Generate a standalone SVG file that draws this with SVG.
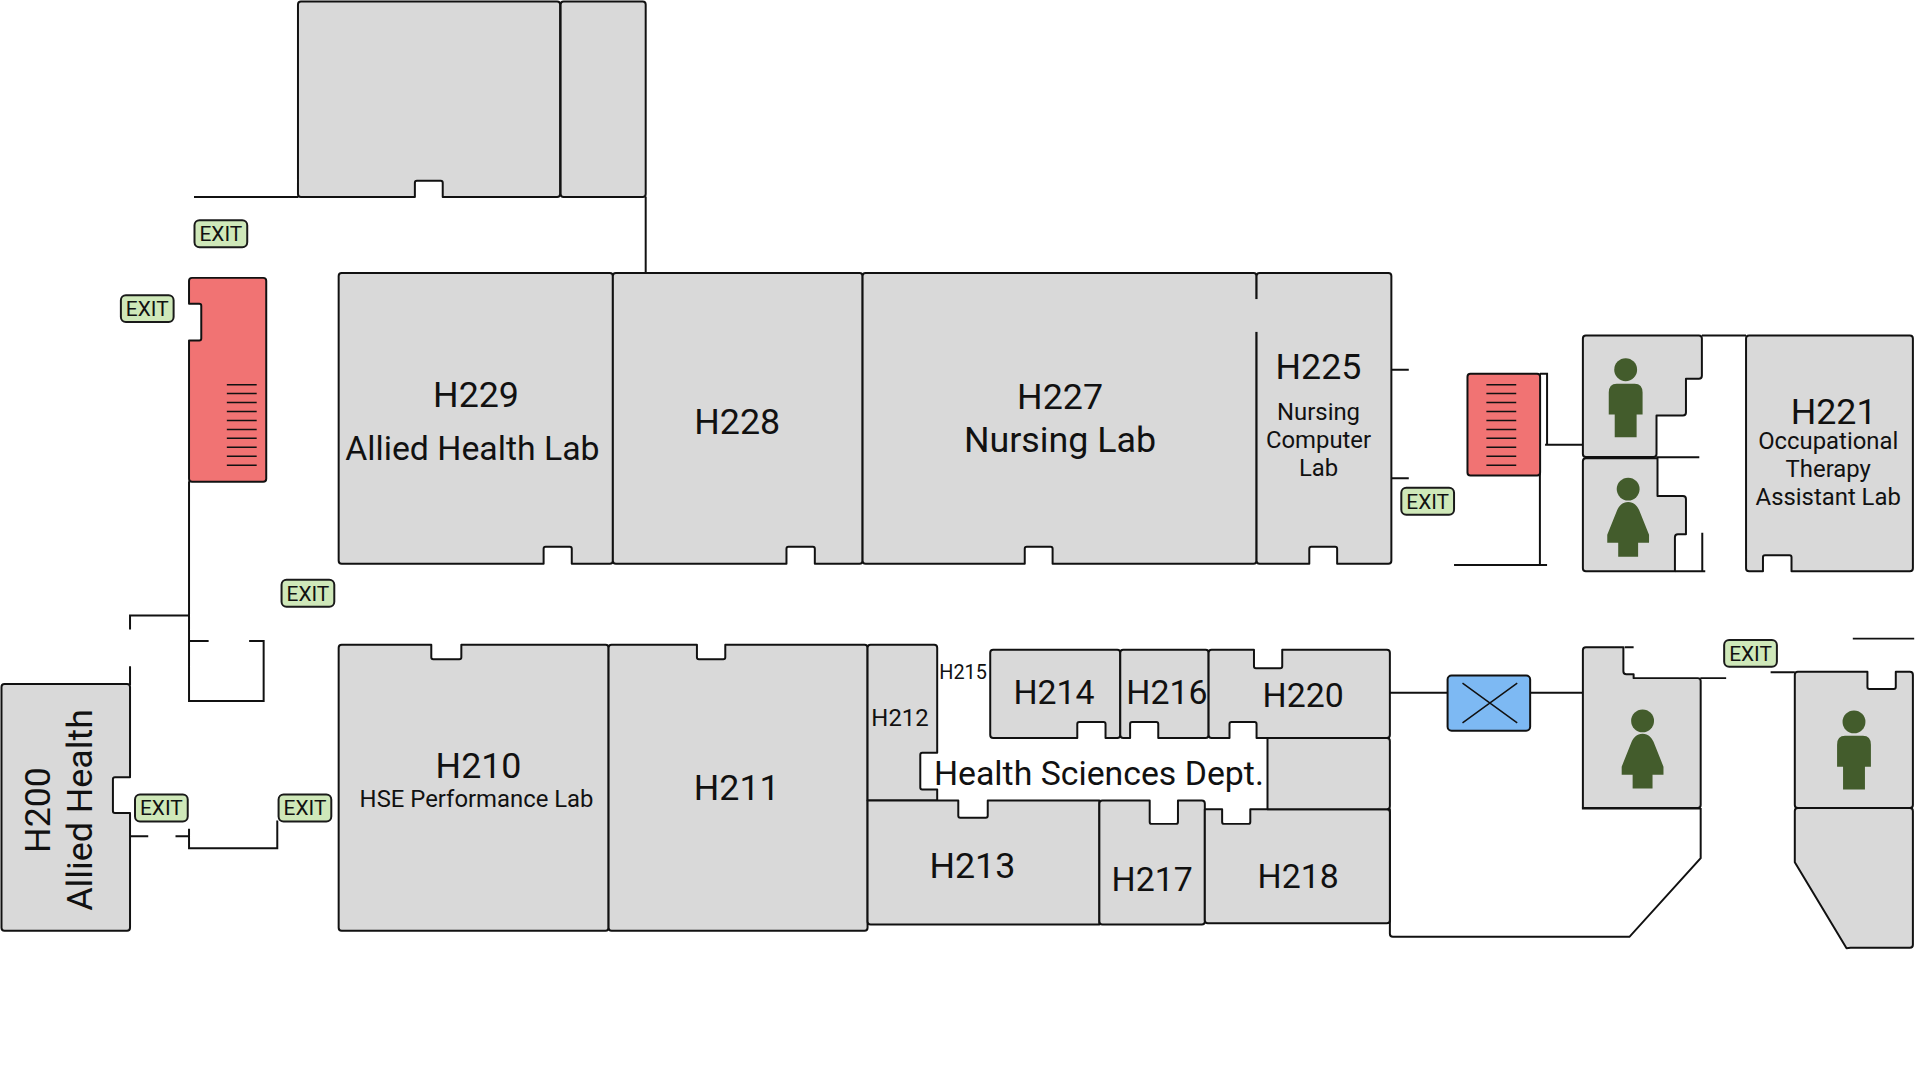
<svg xmlns="http://www.w3.org/2000/svg" width="1924" height="1080" viewBox="0 0 1924 1080">
<style>
text{font-family:Roboto,"Liberation Sans",sans-serif;fill:#111;text-anchor:middle}
.r{fill:#d9d9d9;stroke:#111;stroke-width:2;stroke-linejoin:round}
.s{fill:#f17373;stroke:#111;stroke-width:2;stroke-linejoin:round}
.w{fill:none;stroke:#111;stroke-width:2}
.xr{fill:#cfe8b9;stroke:#1a1a1a;stroke-width:2}
.xt{font-size:21px}
.t{stroke:#111;stroke-width:1.500}
.p{fill:#435c2c}
.l{font-size:36px}
.a{font-size:34px}
.m{font-size:24px}
</style>
<defs>
<g id="man"><circle r="11.5"/><path d="M-9 14H9Q17 14 17 23V45H11V68H-11V45H-17V23Q-17 14-9 14Z"/></g>
<g id="woman"><circle r="11.5"/><path d="M0 13C6 13 9 17 11 21L21 46V54H10V68H-10V54H-21V46L-11 21C-9 17-6 13 0 13Z"/></g>
<g id="treads"><path class="t" d="M0 0h30M0 9h30M0 18h30M0 27h30M0 36h30M0 45h30M0 54h30M0 63h30M0 72h30M0 81h30"/></g>
<g id="exit"><rect class="xr" x="-26.500" y="-13.500" width="53" height="27" rx="5"/><text class="xt" y="7.500">EXIT</text></g>
</defs>
<g id="plan" transform="translate(0 .6) scale(.9949)">
<g id="connectors">
<path class="w" d="M195 197.300H300M649 197V274"/>
<path class="w" d="M190 483V704H265V643.800H250.400M190 643.800H209.700M190 618H130.700V632M130.700 669V688"/>
<path class="w" d="M130.700 840H149M176.400 840H190M190 832.500V852H278.700V824"/>
<path class="w" d="M1398.500 371H1416M1398.500 480H1416"/>
<path class="w" d="M1461.500 567.300H1555M1547.800 375V567.300M1547.800 375H1555V446.500M1553 446.500H1591"/>
<path class="w" d="M1710.600 336.700H1755M1665 459H1708M1683.500 573.500H1714M1711 535V573.500"/>
<path class="w" d="M1397 695.600H1455M1538 695.600H1591"/>
<path class="w" d="M1397 812V938q0 3 3 3H1637.800L1709.400 862V811.500"/>
<path class="w" d="M1709 681H1735M1779.700 675H1804M1862.300 641.300H1924M1633 650H1642M1590 812H1709" />
</g>

<g id="room-a"><path class="r" d="M302.500 1H560q3 0 3 3V194.300q0 3-3 3H445V183q0-2-2-2H419q-2 0-2 2V197.300H302.500q-3 0-3-3V4q0-3 3-3Z"/></g>
<g id="room-b"><path class="r" d="M566.500 1H646q3 0 3 3V194.300q0 3-3 3H566.500q-3 0-3-3V4q0-3 3-3Z"/></g>

<g id="stair-west"><path class="s" d="M193 278.700H264.600q3 0 3 3V480.500q0 3-3 3H193q-3 0-3-3V341.600H200.300q2 0 2-2V306.600q0-2-2-2H190V281.700q0-3 3-3Z"/><use href="#treads" x="228" y="386"/></g>

<g id="H229"><path class="r" d="M343.400 273.800H613q3 0 3 3V563q0 3-3 3H574.700V551q0-2-2-2H548.400q-2 0-2 2V566H343.400q-3 0-3-3V276.800q0-3 3-3Z"/><text class="l" x="478.500" y="408">H229</text><text class="a" x="474.800" y="462">Allied Health Lab</text></g>
<g id="H228"><path class="r" d="M619 273.800H864q3 0 3 3V563q0 3-3 3H819V551q0-2-2-2H792.500q-2 0-2 2V566H619q-3 0-3-3V276.800q0-3 3-3Z"/><text class="l" x="741" y="436">H228</text></g>
<g id="H227"><path class="r" d="M870 273.800H1260q3 0 3 3V563q0 3-3 3H1058V551q0-2-2-2H1032q-2 0-2 2V566H870q-3 0-3-3V276.800q0-3 3-3Z"/><text class="l" x="1065.500" y="411">H227</text><text class="l" x="1065.500" y="454">Nursing Lab</text></g>
<g id="H225"><path class="r" d="M1266 273.800H1395.500q3 0 3 3V563q0 3-3 3H1344V551q0-2-2-2H1318q-2 0-2 2V566H1266q-3 0-3-3V276.800q0-3 3-3Z"/><rect x="1261" y="300" width="4" height="33" fill="#d9d9d9"/><text class="l" x="1325.300" y="380">H225</text><g class="m"><text x="1325.300" y="422">Nursing</text><text x="1325.300" y="450">Computer</text><text x="1325.300" y="478">Lab</text></g></g>

<g id="H200"><path class="r" d="M4.500 687H127.700q3 0 3 3V780.700H115.500q-2 0-2 2V814.500q0 2 2 2H130.700V932q0 3-3 3H4.500q-3 0-3-3V690q0-3 3-3Z"/><text class="l" transform="translate(50.500 813.500) rotate(-90)">H200</text><text class="l" transform="translate(92.500 813.500) rotate(-90)">Allied Health</text></g>

<g id="H210"><path class="r" d="M343.400 647.500H433.500V660q0 2 2 2H461.700q2 0 2-2V647.500H608.700q3 0 3 3V932q0 3-3 3H343.400q-3 0-3-3V650.500q0-3 3-3Z"/><text class="l" x="481" y="781">H210</text><text class="m" x="479" y="811">HSE Performance Lab</text></g>
<g id="H211"><path class="r" d="M614.700 647.500H700.500V660q0 2 2 2H727q2 0 2-2V647.500H869q3 0 3 3V932q0 3-3 3H614.700q-3 0-3-3V650.500q0-3 3-3Z"/><text class="l" x="740.500" y="804">H211</text></g>
<g id="H212"><path class="r" d="M875 647.500H939q3 0 3 3V756H927q-2 0-2 2V791q0 2 2 2H942V804H872V650.500q0-3 3-3Z"/><text class="m" x="904.600" y="729">H212</text></g>
<g id="H213"><path class="r" d="M872 804H963.200V819.400q0 2 2 2H990.800q2 0 2-2V804H1105V928.700H875q-3 0-3-3Z"/><text class="l" x="977.400" y="882">H213</text></g>
<g id="H217"><path class="r" d="M1108 804H1155.600V825.500q0 2 2 2H1182q2 0 2-2V804H1208q3 0 3 3V925.700q0 3-3 3H1108q-3 0-3-3V807q0-3 3-3Z"/><text class="a" x="1158" y="895">H217</text></g>
<g id="H218"><path class="r" d="M1211 812.700H1228.400V825.500q0 2 2 2H1254.700q2 0 2-2V812.700H1394q3 0 3 3V924.400q0 3-3 3H1214q-3 0-3-3Z"/><text class="a" x="1304.800" y="892">H218</text></g>
<g id="H214"><path class="r" d="M998.300 652.400H1123q3 0 3 3V738.200q0 3-3 3H1111.200V727q0-2-2-2H1084.800q-2 0-2 2V741.200H998.300q-3 0-3-3V655.400q0-3 3-3Z"/><text class="a" x="1059.400" y="707">H214</text></g>
<g id="H216"><path class="r" d="M1129 652.400H1211.800q3 0 3 3V738.200q0 3-3 3H1164.200V727q0-2-2-2H1137.900q-2 0-2 2V741.200H1129q-3 0-3-3V655.400q0-3 3-3Z"/><text class="a" x="1172.900" y="707">H216</text></g>
<g id="H220"><path class="r" d="M1217.800 652.400H1260.400V669q0 2 2 2H1286.800q2 0 2-2V652.400H1394q3 0 3 3V738.200q0 3-3 3H1263V727q0-2-2-2H1237.800q-2 0-2 2V741.200H1217.800q-3 0-3-3V655.400q0-3 3-3Z"/><text class="a" x="1309.800" y="710">H220</text></g>
<g id="room-c"><path class="r" d="M1274 741.200H1394q3 0 3 3V809.700q0 3-3 3H1274Z"/></g>
<g id="H215"><text font-size="20" x="968" y="682">H215</text></g>
<g id="dept"><text class="a" x="1104.500" y="788">Health Sciences Dept.</text></g>

<g id="stair-east"><rect class="s" x="1475" y="375" width="73" height="102.300" rx="3"/><use href="#treads" x="1494" y="386"/></g>

<g id="restroom-men-1"><path class="r" d="M1594 336.700H1707.600q3 0 3 3V377q0 3-3 3H1694.600V414q0 3-3 3H1665V455.800q0 3-3 3H1594q-3 0-3-3V339.700q0-3 3-3Z"/><use href="#man" class="p" x="1634" y="371"/></g>
<g id="restroom-women-1"><path class="r" d="M1594 460H1666V498H1691.600q3 0 3 3V536.500H1686.500q-3 0-3 3V573.500H1594q-3 0-3-3V463q0-3 3-3Z"/><use href="#woman" class="p" x="1636.500" y="491"/></g>
<g id="H221"><path class="r" d="M1758 336.700H1919.700q3 0 3 3V570.500q0 3-3 3H1800.700V559.500q0-2-2-2H1774q-2 0-2 2V573.500H1758q-3 0-3-3V339.700q0-3 3-3Z"/><text class="l" x="1843" y="426">H221</text><g class="m"><text x="1837.600" y="450.500">Occupational</text><text x="1837.600" y="479">Therapy</text><text x="1837.600" y="507">Assistant Lab</text></g></g>

<g id="elevator"><rect x="1455" y="678.300" width="83" height="55.500" rx="4" fill="#7db9f3" stroke="#111" stroke-width="2"/><path class="t" d="M1470 686L1525 726M1525 686L1470 726"/></g>

<g id="restroom-women-2"><path class="r" d="M1594 650H1631.700V674q0 3 3 3H1642V681H1706.400q3 0 3 3V808.500q0 3-3 3H1591V653q0-3 3-3Z"/><use href="#woman" class="p" x="1651" y="724"/></g>
<g id="restroom-men-2"><path class="r" d="M1807 674.600H1877V690q0 2 2 2H1903.500q2 0 2-2V674.600H1919.700q3 0 3 3V808.500q0 3-3 3H1807q-3 0-3-3V677.600q0-3 3-3Z"/><use href="#man" class="p" x="1863.500" y="725"/></g>
<g id="room-d"><path class="r" d="M1807 811.500H1919.700q3 0 3 3V949q0 3-3 3H1860L1856 952.500L1804 866V814.500q0-3 3-3Z"/></g>

<g id="exit-1" transform="translate(222 234.300)"><use href="#exit"/></g>
<g id="exit-2" transform="translate(148 309.600)"><use href="#exit"/></g>
<g id="exit-3" transform="translate(309.500 595.700)"><use href="#exit"/></g>
<g id="exit-4" transform="translate(162.200 811.500)"><use href="#exit"/></g>
<g id="exit-5" transform="translate(306.500 811.500)"><use href="#exit"/></g>
<g id="exit-6" transform="translate(1435 503.200)"><use href="#exit"/></g>
<g id="exit-7" transform="translate(1759.500 656.100)"><use href="#exit"/></g>
</g>
</svg>
